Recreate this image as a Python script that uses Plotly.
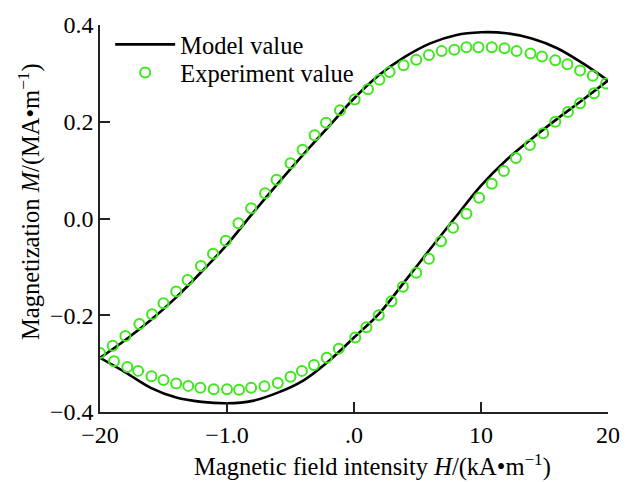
import plotly.graph_objects as go

# Magnetic field intensity H (kA/m) and magnetization M (MA/m)

# Model: ascending branch (H increasing) and descending branch (H decreasing)
model_up_h = [-20, -18, -16, -14, -12, -10, -8, -6, -4, -2, 0,
              2, 4, 6, 8, 10, 12, 14, 16, 18, 20]
model_up_m = [-0.288, -0.251, -0.210, -0.163, -0.110, -0.054, 0.010, 0.072, 0.132, 0.190, 0.248,
              0.297, 0.334, 0.362, 0.379, 0.385, 0.383, 0.372, 0.352, 0.321, 0.285]

model_dn_h = [20, 18, 16, 14, 12, 10, 8, 6, 4, 2, 0,
              -2, -4, -6, -8, -10, -12, -14, -16, -18, -20]
model_dn_m = [0.285, 0.245, 0.206, 0.165, 0.121, 0.068, 0.003, -0.063, -0.130, -0.196, -0.246,
              -0.295, -0.335, -0.360, -0.377, -0.382, -0.379, -0.370, -0.350, -0.318, -0.288]

# Measured loop
exp_up_h = [-20.0, -19.0, -18.0, -16.9, -15.9, -15.0, -14.0, -13.1, -12.05, -11.1, -10.1,
            -9.1, -8.1, -7.0, -6.1, -5.0, -4.05, -3.1, -2.2, -1.1, 0.05,
            1.1, 2.0, 2.8, 3.9, 4.9, 5.9, 6.9, 7.9, 8.85, 9.8,
            10.85, 11.85, 12.8, 13.9, 14.8, 15.85, 16.8, 17.8, 18.8, 19.85]
exp_up_m = [-0.278, -0.263, -0.243, -0.218, -0.198, -0.175, -0.151, -0.127, -0.098, -0.073, -0.046,
            -0.010, 0.021, 0.052, 0.080, 0.114, 0.142, 0.172, 0.198, 0.224, 0.246,
            0.267, 0.287, 0.303, 0.317, 0.328, 0.338, 0.346, 0.349, 0.354, 0.354,
            0.354, 0.352, 0.346, 0.341, 0.335, 0.327, 0.319, 0.306, 0.295, 0.279]

exp_dn_h = [18.9, 17.8, 16.85, 15.85, 14.9, 13.85, 12.75, 11.8, 10.85, 9.85,
            8.85, 7.8, 6.85, 5.9, 4.9, 3.85, 2.95, 1.95, 0.98, 0.1,
            -1.2, -2.15, -3.15, -4.1, -5.0, -6.0, -7.05, -8.1, -9.05, -10.0,
            -11.05, -12.1, -13.05, -14.0, -15.0, -15.95, -17.0, -17.85, -18.9]
exp_dn_m = [0.259, 0.238, 0.220, 0.200, 0.176, 0.152, 0.125, 0.098, 0.072, 0.043,
            0.010, -0.019, -0.047, -0.083, -0.112, -0.141, -0.171, -0.200, -0.225, -0.246,
            -0.269, -0.288, -0.303, -0.315, -0.327, -0.340, -0.347, -0.350, -0.354, -0.353,
            -0.353, -0.350, -0.346, -0.341, -0.334, -0.326, -0.315, -0.307, -0.295]

x_tickvals = [-20, -10, 0, 10, 20]
x_ticktext = ["\u221220", "\u22121.0", ".0", "10", "20"]
y_tickvals = [-0.4, -0.2, 0.0, 0.2, 0.4]
y_ticktext = ["\u22120.4", "\u22120.2", "0.0", "0.2", "0.4"]

FONT = "Liberation Serif, Times New Roman, serif"
GREEN = "#3de81b"
SIZE = 24.5

fig = go.Figure()

fig.add_trace(go.Scatter(
    x=model_up_h, y=model_up_m, mode="lines", name="Model value",
    line=dict(color="black", width=2.6, shape="spline", smoothing=1.0),
    legendgroup="model", showlegend=True, legend="legend",
))
fig.add_trace(go.Scatter(
    x=model_dn_h, y=model_dn_m, mode="lines", name="Model value",
    line=dict(color="black", width=2.6, shape="spline", smoothing=1.0),
    legendgroup="model", showlegend=False, legend="legend",
))
fig.add_trace(go.Scatter(
    x=exp_up_h + exp_dn_h, y=exp_up_m + exp_dn_m, mode="markers",
    name="Experiment value", legend="legend2",
    marker=dict(symbol="circle-open", size=10, color=GREEN,
                line=dict(color=GREEN, width=2)),
))

legend_style = dict(
    xanchor="left", yanchor="top",
    bgcolor="rgba(0,0,0,0)", borderwidth=0,
    font=dict(family=FONT, size=SIZE, color="black"),
    itemwidth=60,
)

fig.update_layout(
    width=632, height=482,
    margin=dict(l=100, r=20, t=22, b=70),
    paper_bgcolor="white", plot_bgcolor="white",
    font=dict(family=FONT, size=SIZE, color="black"),
    showlegend=True,
    legend=dict(x=0.02, y=1.008, **legend_style),
    legend2=dict(x=0.02, y=0.935, **legend_style),
    xaxis=dict(
        range=[-20, 20], tickvals=x_tickvals, ticktext=x_ticktext,
        ticks="inside", ticklen=10, tickwidth=1.5, tickcolor="#222",
        showline=True, linecolor="#222", linewidth=1.5,
        showgrid=False, zeroline=False, mirror=False,
        tickfont=dict(family=FONT, size=24),
    ),
    yaxis=dict(
        range=[-0.4, 0.4], tickvals=y_tickvals, ticktext=y_ticktext,
        ticks="inside", ticklen=10, tickwidth=1.5, tickcolor="#222",
        showline=True, linecolor="#222", linewidth=1.5,
        showgrid=False, zeroline=False, mirror=False,
        tickfont=dict(family=FONT, size=24),
    ),
    annotations=[
        dict(text="Magnetic field intensity <i>H</i>/(kA\u2022m<sup>\u22121</sup>)",
             xref="paper", yref="paper", x=0.537, y=-0.138,
             xanchor="center", yanchor="middle", showarrow=False,
             font=dict(family=FONT, size=SIZE)),
        dict(text="Magnetization <i>M</i>/(MA\u2022m<sup>\u22121</sup>)",
             xref="paper", yref="paper", x=-0.14, y=0.545,
             xanchor="center", yanchor="middle", showarrow=False, textangle=-90,
             font=dict(family=FONT, size=SIZE)),
    ],
)

fig.write_html("out.html")
